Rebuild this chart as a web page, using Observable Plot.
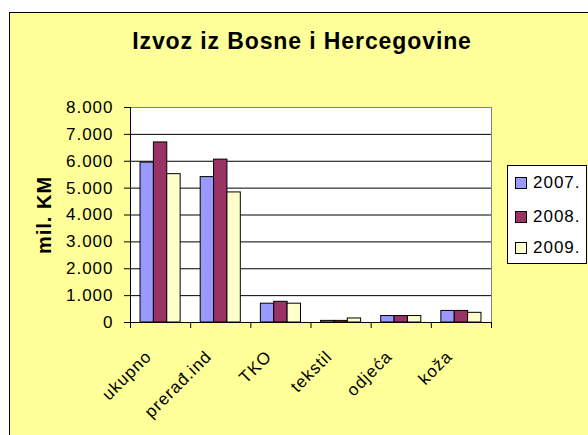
<!DOCTYPE html>
<html>
<head>
<meta charset="utf-8">
<script src="https://cdn.jsdelivr.net/npm/d3@7"></script>
<script src="https://cdn.jsdelivr.net/npm/@observablehq/plot@0.6"></script>
<style>
  html, body { margin: 0; padding: 0; background: #fff; width: 588px; height: 435px; overflow: hidden; }
  body { position: relative; }
  #frame { position: absolute; left: 9px; top: 12px; width: 640px; height: 480px; background: #FFFF99;
           border-left: 1px solid #000; border-top: 1px solid #000; }
  #title { position: absolute; left: 0; top: 30px; width: 604px; text-align: center;
           font-family: "Liberation Sans", Arial, sans-serif; font-weight: bold; font-size: 23px;
           line-height: 23px; letter-spacing: 0.9px; color: #000; white-space: nowrap; }
  #chart { position: absolute; left: 10px; top: 13px; }
  #legend { position: absolute; left: 507px; top: 165px; width: 78px; height: 97px; background: #fff;
            border: 1px solid #000; font-family: "Liberation Sans", Arial, sans-serif; font-size: 17px;
            letter-spacing: 1px; color: #000; }
  .row { position: absolute; left: 7px; height: 20px; display: flex; align-items: center; white-space: nowrap; }
  .sw { width: 10px; height: 10px; border: 1px solid #000; margin-right: 6px; flex: none; }
</style>
</head>
<body>
<div id="frame"></div>
<div id="title">Izvoz iz Bosne i Hercegovine</div>
<div id="chart"></div>
<div id="legend"></div>
<script>
// ---- data ----
const categories = ["ukupno", "prerađ.ind", "TKO", "tekstil", "odjeća", "koža"];
const years = ["2007.", "2008.", "2009."];
const values2007 = [5950, 5410, 700, 60, 240, 430];
const values2008 = [6700, 6060, 770, 60, 240, 430];
const values2009 = [5520, 4840, 700, 150, 240, 360];
const yTicks = [0, 1000, 2000, 3000, 4000, 5000, 6000, 7000, 8000];
const yLabel = "mil. KM";
const colors = ["#9999FF", "#993366", "#FFFFCC"];

// ---- build table ----
const series = [values2007, values2008, values2009];
const gap = 1.5; // Excel gap width (in bar widths)
const slots = years.length + gap;
const rows = [];
categories.forEach((c, i) => {
  years.forEach((yr, j) => {
    rows.push({
      category: c, year: yr, value: series[j][i],
      x1: i + (gap / 2 + j) / slots,
      x2: i + (gap / 2 + j + 1) / slots
    });
  });
});

const fmt = d3.formatLocale({decimal: ",", thousands: ".", grouping: [3], currency: ["", ""]}).format(",d");

const chart = Plot.plot({
  width: 578,
  height: 422,
  marginLeft: 120,
  marginRight: 97,
  marginTop: 94,
  marginBottom: 113,
  style: {background: "transparent", color: "#000", fontFamily: "'Liberation Sans', Arial, sans-serif", fontSize: "17px", letterSpacing: "1px", overflow: "visible"},
  x: {type: "linear", domain: [0, categories.length], axis: null},
  y: {domain: [0, 8000], axis: null},
  color: {domain: years, range: colors},
  marks: [
    Plot.frame({fill: "white", stroke: "#808080"}),
    Plot.ruleY(yTicks.filter(t => t > 0 && t < 8000), {stroke: "#000"}),
    Plot.rect(rows, {x1: "x1", x2: "x2", y1: () => 0, y2: "value", fill: "year", stroke: "#000", strokeWidth: 1}),
    Plot.ruleX([0], {stroke: "#000"}),
    Plot.ruleY([0], {stroke: "#000"}),
    Plot.axisY({ticks: yTicks, tickFormat: fmt, tickSize: 6, tickPadding: 11, label: null}),
    Plot.axisX({ticks: d3.range(0, categories.length + 1), tickFormat: () => "", tickSize: 6, label: null}),
    Plot.text(categories, {x: (d, i) => i + 0.5, frameAnchor: "bottom", rotate: -45, textAnchor: "end", lineAnchor: "bottom", dx: -8, dy: 35}),
    Plot.text([yLabel], {frameAnchor: "left", rotate: -90, textAnchor: "middle", dx: -86, fontWeight: "bold", fontSize: 20, fontFamily: "'Liberation Sans', Arial, sans-serif"})
  ]
});
document.getElementById("chart").appendChild(chart);

// legend
const legend = document.getElementById("legend");
const rowCenters = [17, 50.5, 82];
years.forEach((yr, j) => {
  const r = document.createElement("div");
  r.className = "row";
  r.style.top = (rowCenters[j] - 10) + "px";
  const sw = document.createElement("div");
  sw.className = "sw";
  sw.style.background = colors[j];
  const t = document.createElement("span");
  t.textContent = yr;
  r.appendChild(sw); r.appendChild(t);
  legend.appendChild(r);
});
</script>
</body>
</html>
